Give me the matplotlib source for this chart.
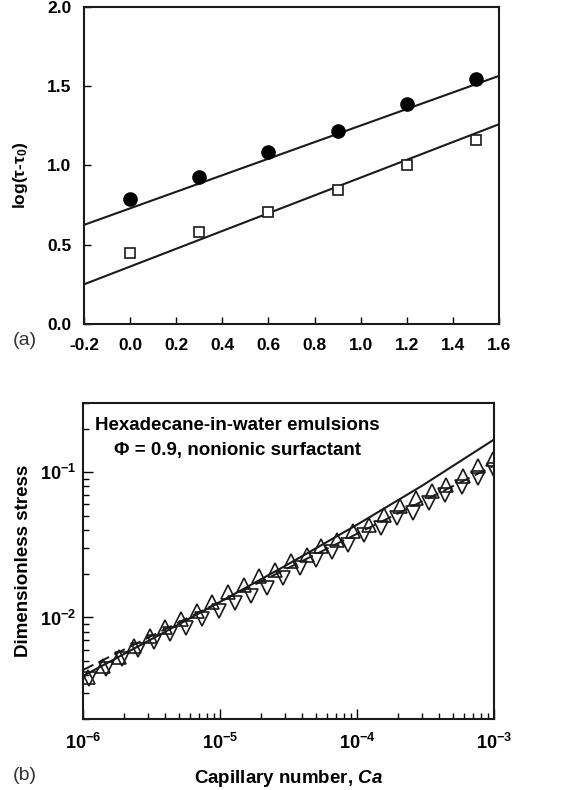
import matplotlib
matplotlib.use('Agg')
import matplotlib.pyplot as plt
from matplotlib.ticker import FixedLocator, LogLocator, NullFormatter

plt.rcParams['font.family'] = ['Liberation Sans', 'DejaVu Sans']
plt.rcParams['mathtext.fontset'] = 'custom'
plt.rcParams['mathtext.rm'] = 'Liberation Sans:bold'
plt.rcParams['mathtext.bf'] = 'Liberation Sans:bold'
plt.rcParams['mathtext.it'] = 'Liberation Sans:italic'
plt.rcParams['mathtext.bfit'] = 'Liberation Sans:bold:italic'

# (a) log-log shear data, two sample sets with linear fits
log_rate = [0.0, 0.3, 0.6, 0.9, 1.2, 1.5]
stress_filled = [0.79, 0.93, 1.085, 1.22, 1.39, 1.545]
stress_open = [0.445, 0.58, 0.705, 0.845, 1.005, 1.16]
fit_x = [-0.2, 1.6]
fit_filled = [0.625, 1.565]
fit_open = [0.25, 1.26]

# (b) dimensionless stress vs capillary number
ca_up = [1.08e-6, 1.4e-6, 1.83e-6, 2.37e-6, 3.1e-6, 4.0e-6, 5.2e-6, 6.8e-6,
         8.8e-6, 1.15e-5, 1.49e-5, 1.94e-5, 2.5e-5, 3.3e-5, 4.3e-5, 5.5e-5,
         7.2e-5, 9.4e-5, 1.22e-4, 1.58e-4, 2.06e-4, 2.68e-4, 3.5e-4, 4.5e-4,
         5.9e-4, 7.6e-4, 9.9e-4]
s_up = [3.92e-3, 4.65e-3, 5.38e-3, 6.38e-3, 7.40e-3, 8.58e-3, 9.74e-3, 1.117e-2,
        1.288e-2, 1.486e-2, 1.679e-2, 1.918e-2, 2.13e-2, 2.43e-2, 2.70e-2, 3.09e-2,
        3.44e-2, 3.92e-2, 4.36e-2, 5.10e-2, 5.83e-2, 6.65e-2, 7.40e-2, 8.22e-2,
        9.38e-2, 1.10e-1, 1.236e-1]
ca_down = [1.11e-6, 1.46e-6, 1.91e-6, 2.51e-6, 3.30e-6, 4.33e-6, 5.68e-6, 7.45e-6,
           9.79e-6, 1.285e-5, 1.69e-5, 2.21e-5, 2.90e-5, 3.82e-5, 5.01e-5, 6.58e-5,
           8.63e-5, 1.133e-4, 1.49e-4, 1.95e-4, 2.56e-4, 3.37e-4, 4.42e-4, 5.80e-4,
           7.62e-4, 1.0e-3]
s_down = [3.79e-3, 4.45e-3, 5.21e-3, 5.95e-3, 6.80e-3, 7.67e-3, 8.53e-3, 9.69e-3,
          1.111e-2, 1.262e-2, 1.40e-2, 1.60e-2, 1.857e-2, 2.18e-2, 2.49e-2, 2.84e-2,
          3.15e-2, 3.70e-2, 4.11e-2, 4.82e-2, 5.27e-2, 6.11e-2, 6.98e-2, 7.88e-2,
          9.10e-2, 1.037e-1]
ca_model = [1e-6, 3e-6, 1e-5, 3e-5, 1e-4, 3e-4, 1e-3]
s_model = [3.95e-3, 6.9e-3, 1.28e-2, 2.27e-2, 4.35e-2, 8.1e-2, 0.168]
ca_fit = [1e-6, 1e-3]
s_fit = [4.35e-3, 0.111]

fig = plt.figure(figsize=(5.74, 7.90), dpi=100)

# ---- panel (a)
ax1 = fig.add_axes([0.1463, 0.5899, 0.7230, 0.4013])
ax1.plot(fit_x, fit_filled, color='#1a1a1a', lw=1.5)
ax1.plot(fit_x, fit_open, color='#1a1a1a', lw=1.5)
ax1.plot(log_rate, stress_filled, 'o', ms=9.5, color='black', mec='black')
ax1.plot(log_rate, stress_open, 's', ms=7.5, mfc='white', mec='#1a1a1a', mew=1.2)
ax1.set_xlim(-0.2, 1.6)
ax1.set_ylim(0, 2.0)
ax1.set_xticks([-0.2, 0.0, 0.2, 0.4, 0.6, 0.8, 1.0, 1.2, 1.4, 1.6])
ax1.set_yticks([0.0, 0.5, 1.0, 1.5, 2.0])
ax1.set_xticklabels(['%.1f' % v for v in ax1.get_xticks()])
ax1.set_yticklabels(['%.1f' % v for v in ax1.get_yticks()])
ax1.tick_params(axis='x', direction='in', length=5, width=1, pad=10,
                labelsize=12.5, top=False)
ax1.tick_params(axis='y', direction='in', length=5, width=1, pad=9,
                labelsize=12.5, right=False)
for lbl in ax1.get_xticklabels() + ax1.get_yticklabels():
    lbl.set_fontweight('bold')
ax1.set_ylabel('log(τ-τ$_0$)', fontsize=12.5, fontweight='bold')
ax1.yaxis.set_label_coords(-0.13, 0.47)
for sp in ax1.spines.values():
    sp.set_linewidth(1.5)
    sp.set_color('#1a1a1a')
fig.text(0.022, 0.569, '(a)', fontsize=14, color='#333333', va='center')

# ---- panel (b)
ax2 = fig.add_axes([0.1446, 0.0899, 0.7160, 0.4000])
ax2.set_xscale('log')
ax2.set_yscale('log')
ax2.plot(ca_model, s_model, color='#1a1a1a', lw=1.5)
ax2.plot(ca_fit, s_fit, color='#1a1a1a', lw=1.4, ls=(0, (6, 3)))
ax2.plot(ca_up, s_up, '^', ms=9.5, mfc='none', mec='#1a1a1a', mew=1.2)
ax2.plot(ca_down, s_down, 'v', ms=9.5, mfc='none', mec='#1a1a1a', mew=1.2)
ax2.set_xlim(1e-6, 1e-3)
ax2.set_ylim(2e-3, 3e-1)
ax2.xaxis.set_major_locator(FixedLocator([1e-6, 1e-5, 1e-4, 1e-3]))
ax2.set_xticklabels([r'$\mathbf{10^{-6}}$', r'$\mathbf{10^{-5}}$',
                     r'$\mathbf{10^{-4}}$', r'$\mathbf{10^{-3}}$'])
ax2.yaxis.set_major_locator(FixedLocator([1e-2, 1e-1]))
ax2.set_yticklabels([r'$\mathbf{10^{-2}}$', r'$\mathbf{10^{-1}}$'])
ax2.xaxis.set_minor_locator(LogLocator(base=10, subs=range(2, 10)))
ax2.yaxis.set_minor_locator(LogLocator(base=10, subs=range(2, 10)))
ax2.xaxis.set_minor_formatter(NullFormatter())
ax2.yaxis.set_minor_formatter(NullFormatter())
ax2.tick_params(which='major', direction='in', length=7, width=1, labelsize=13)
ax2.tick_params(which='minor', direction='in', length=4, width=1)
ax2.tick_params(axis='x', which='both', top=False, pad=10)
ax2.tick_params(axis='y', which='both', right=False, pad=5)
ax2.set_ylabel('Dimensionless stress', fontsize=13.5, fontweight='bold')
ax2.yaxis.set_label_coords(-0.124, 0.5)
ax2.set_xlabel(r'Capillary number, $\mathbfit{Ca}$', fontsize=13.5, fontweight='bold')
ax2.xaxis.set_label_coords(0.5, -0.155)
ax2.text(0.375, 0.93, 'Hexadecane-in-water emulsions', transform=ax2.transAxes,
         ha='center', va='center', fontsize=13.5, fontweight='bold')
ax2.text(0.375, 0.85, 'Φ = 0.9, nonionic surfactant', transform=ax2.transAxes,
         ha='center', va='center', fontsize=13.5, fontweight='bold')
for sp in ax2.spines.values():
    sp.set_linewidth(1.5)
    sp.set_color('#1a1a1a')
fig.text(0.022, 0.018, '(b)', fontsize=14, color='#333333', va='center')

fig.savefig('out.png', dpi=100)
